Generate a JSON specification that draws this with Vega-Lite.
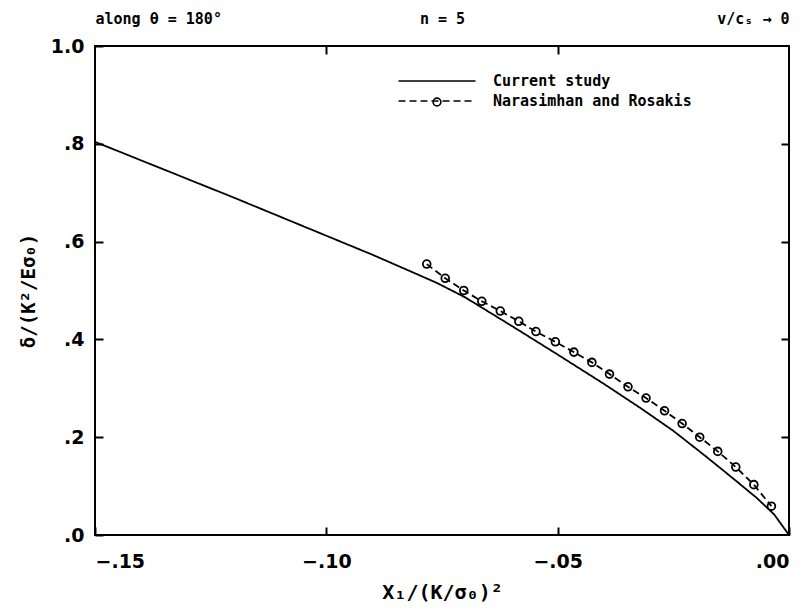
{
  "$schema": "https://vega.github.io/schema/vega-lite/v6.json",
  "width": 694,
  "height": 489,
  "autosize": {"type": "none"},
  "padding": {"left": 95, "top": 46, "right": 20, "bottom": 77},
  "background": "white",
  "config": {
    "view": {"stroke": "black", "strokeWidth": 2},
    "axis": {
      "domain": false,
      "grid": false,
      "tickColor": "black",
      "tickWidth": 2,
      "labelColor": "black",
      "titleColor": "black",
      "labelFont": "DejaVu Sans",
      "labelFontWeight": "bold",
      "labelFontSize": 19,
      "titleFont": "DejaVu Sans Mono",
      "titleFontWeight": "bold",
      "titleFontSize": 19
    }
  },
  "datasets": {
    "curves": [
      {"series": "Current study", "x": -0.150, "y": 0.804},
      {"series": "Current study", "x": -0.135, "y": 0.747},
      {"series": "Current study", "x": -0.120, "y": 0.690},
      {"series": "Current study", "x": -0.110, "y": 0.651},
      {"series": "Current study", "x": -0.100, "y": 0.612},
      {"series": "Current study", "x": -0.090, "y": 0.573},
      {"series": "Current study", "x": -0.082, "y": 0.540},
      {"series": "Current study", "x": -0.076, "y": 0.515},
      {"series": "Current study", "x": -0.070, "y": 0.486},
      {"series": "Current study", "x": -0.060, "y": 0.428},
      {"series": "Current study", "x": -0.050, "y": 0.369},
      {"series": "Current study", "x": -0.040, "y": 0.309},
      {"series": "Current study", "x": -0.032, "y": 0.259},
      {"series": "Current study", "x": -0.025, "y": 0.213},
      {"series": "Current study", "x": -0.018, "y": 0.161},
      {"series": "Current study", "x": -0.012, "y": 0.115},
      {"series": "Current study", "x": -0.007, "y": 0.076},
      {"series": "Current study", "x": -0.0032, "y": 0.042},
      {"series": "Current study", "x": 0.0, "y": 0.0},
      {"series": "Narasimhan and Rosakis", "x": -0.0783, "y": 0.554},
      {"series": "Narasimhan and Rosakis", "x": -0.0743, "y": 0.525},
      {"series": "Narasimhan and Rosakis", "x": -0.0703, "y": 0.500},
      {"series": "Narasimhan and Rosakis", "x": -0.0664, "y": 0.478},
      {"series": "Narasimhan and Rosakis", "x": -0.0624, "y": 0.458},
      {"series": "Narasimhan and Rosakis", "x": -0.0584, "y": 0.437},
      {"series": "Narasimhan and Rosakis", "x": -0.0547, "y": 0.416},
      {"series": "Narasimhan and Rosakis", "x": -0.0505, "y": 0.395},
      {"series": "Narasimhan and Rosakis", "x": -0.0465, "y": 0.374},
      {"series": "Narasimhan and Rosakis", "x": -0.0426, "y": 0.353},
      {"series": "Narasimhan and Rosakis", "x": -0.0388, "y": 0.329},
      {"series": "Narasimhan and Rosakis", "x": -0.0348, "y": 0.303},
      {"series": "Narasimhan and Rosakis", "x": -0.0309, "y": 0.280},
      {"series": "Narasimhan and Rosakis", "x": -0.0269, "y": 0.254},
      {"series": "Narasimhan and Rosakis", "x": -0.0231, "y": 0.228},
      {"series": "Narasimhan and Rosakis", "x": -0.0193, "y": 0.200},
      {"series": "Narasimhan and Rosakis", "x": -0.0154, "y": 0.171},
      {"series": "Narasimhan and Rosakis", "x": -0.0115, "y": 0.139},
      {"series": "Narasimhan and Rosakis", "x": -0.0076, "y": 0.103},
      {"series": "Narasimhan and Rosakis", "x": -0.0038, "y": 0.059}
    ]
  },
  "data": {"name": "curves"},
  "layer": [
    {
      "mark": {"type": "line", "color": "black", "strokeWidth": 1.8},
      "encoding": {
        "x": {
          "field": "x", "type": "quantitative",
          "scale": {"domain": [-0.15, 0], "nice": false, "zero": false},
          "axis": {
            "orient": "bottom",
            "values": [-0.15, -0.1, -0.05, 0],
            "tickSize": -8,
            "labelPadding": 25,
            "labelExpr": "replace(format(datum.value, '.2f'), '0.', '.')",
            "title": "X₁/(K/σ₀)²",
            "titleFontSize": 20,
            "titlePadding": 11
          }
        },
        "y": {
          "field": "y", "type": "quantitative",
          "scale": {"domain": [0, 1], "nice": false},
          "axis": {
            "orient": "left",
            "values": [0, 0.2, 0.4, 0.6, 0.8, 1.0],
            "tickSize": -8,
            "labelPadding": 19,
            "labelExpr": "replace(format(datum.value, '.1f'), '0.', '.')",
            "title": "δ/(K²/Eσ₀)",
            "titlePadding": 12
          }
        },
        "strokeDash": {
          "field": "series", "type": "nominal",
          "scale": {"domain": ["Current study", "Narasimhan and Rosakis"], "range": [[1, 0], [7, 4]]},
          "legend": {
            "orient": "none",
            "legendX": 331,
            "legendY": 24,
            "padding": 0,
            "title": null,
            "symbolType": "M-3.85,0H3.85",
            "symbolSize": 400,
            "symbolStrokeWidth": 1.6,
            "symbolStrokeColor": "black",
            "labelFont": "DejaVu Sans Mono",
            "labelFontWeight": "bold",
            "labelFontSize": 15,
            "labelColor": "black",
            "labelLimit": 0,
            "labelOffset": 45,
            "rowPadding": 1
          }
        }
      }
    },
    {
      "transform": [{"filter": "datum.series === 'Narasimhan and Rosakis'"}],
      "mark": {"type": "point", "filled": false, "color": "black", "strokeWidth": 1.8, "size": 60, "opacity": 1},
      "encoding": {
        "shape": {
          "field": "series", "type": "nominal",
          "scale": {"domain": ["Narasimhan and Rosakis"], "range": ["circle"]},
          "legend": {
            "orient": "none",
            "legendX": 337,
            "legendY": 51,
            "padding": 0,
            "title": null,
            "symbolSize": 60,
            "symbolStrokeColor": "black",
            "symbolStrokeWidth": 1.6,
            "symbolOpacity": 1,
            "labelExpr": "''",
            "labelFontSize": 1,
            "labelOffset": 0
          }
        },
        "x": {
          "field": "x", "type": "quantitative",
          "axis": {
            "orient": "top",
            "values": [-0.15, -0.1, -0.075, -0.05, 0],
            "tickSize": -8,
            "tickOpacity": {"condition": {"test": "abs(datum.value + 0.1) < 1e-6 || abs(datum.value + 0.05) < 1e-6", "value": 1}, "value": 0},
            "labelExpr": "abs(datum.value + 0.15) < 1e-6 ? 'along θ = 180°' : abs(datum.value + 0.075) < 1e-6 ? 'n = 5' : abs(datum.value) < 1e-6 ? 'v/cₛ → 0' : ''",
            "labelAlign": {"condition": [{"test": "datum.value < -0.1", "value": "left"}, {"test": "datum.value > -0.01", "value": "right"}], "value": "center"},
            "labelOverlap": false,
            "labelBound": false,
            "labelFlush": false,
            "labelFont": "DejaVu Sans Mono",
            "labelFontSize": 15,
            "labelPadding": 28,
            "title": null
          }
        },
        "y": {
          "field": "y", "type": "quantitative",
          "axis": {
            "orient": "right",
            "values": [0.2, 0.4, 0.6, 0.8],
            "tickSize": -8,
            "labels": false,
            "title": null
          }
        }
      }
    }
  ],
  "resolve": {"axis": {"x": "independent", "y": "independent"}}
}
